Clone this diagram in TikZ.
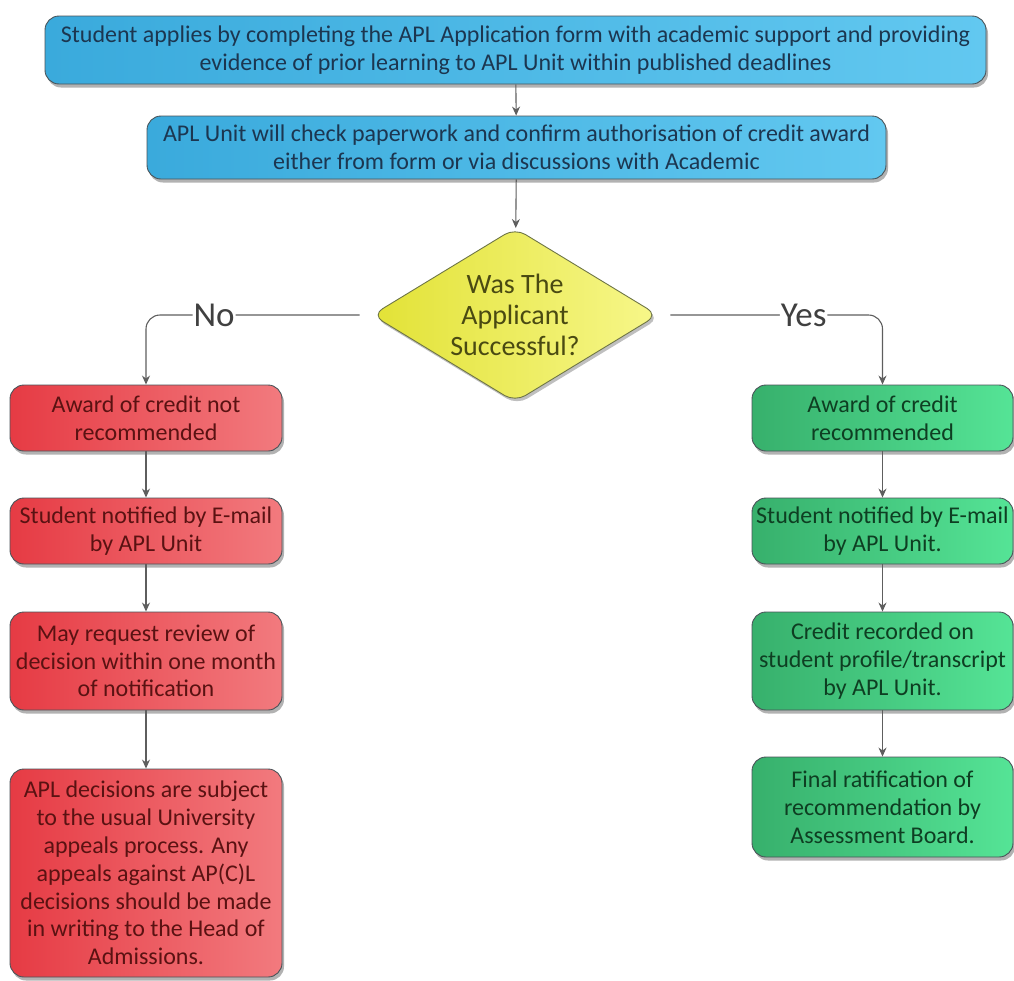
\documentclass[tikz,border=0pt]{standalone}
\usepackage{fontspec}
\setmainfont{Carlito}
\usetikzlibrary{shapes.geometric,shadows,arrows.meta}
\definecolor{bluA}{HTML}{3AAADC}
\definecolor{bluB}{HTML}{62C8F0}
\definecolor{redA}{HTML}{E63B44}
\definecolor{redB}{HTML}{F27A7E}
\definecolor{grnA}{HTML}{37B06C}
\definecolor{grnB}{HTML}{55E496}
\definecolor{yelA}{HTML}{E2E236}
\definecolor{yelB}{HTML}{F7F78A}
\definecolor{edge}{HTML}{4A5358}
\definecolor{arr}{HTML}{5E5E5E}
\definecolor{txB}{HTML}{1C3650}
\definecolor{txR}{HTML}{5A1212}
\definecolor{txG}{HTML}{0E3E22}
\definecolor{txY}{HTML}{4A4A12}
\tikzset{
  x=1pt,y=-1pt,
  boxbase/.style={draw=edge, line width=0.9pt, rounded corners=14pt, align=center,
    inner sep=2pt, font=\fontsize{24}{27.8}\selectfont,
    drop shadow={shadow xshift=2pt,shadow yshift=-3.5pt,fill=black,opacity=0.3}},
  bluebox/.style={boxbase, left color=bluA, right color=bluB, text=txB},
  redbox/.style={boxbase, left color=redA, right color=redB, text=txR, minimum width=272pt},
  grnbox/.style={boxbase, left color=grnA, right color=grnB, text=txG, minimum width=261pt},
  decbox/.style={diamond, aspect=1.64, draw=edge!80!yellow, line width=0.9pt, rounded corners=12pt,
    left color=yelA, right color=yelB, text=txY, align=center, inner sep=0pt,
    minimum width=286pt, minimum height=174pt,
    font=\fontsize{28}{31}\selectfont,
    drop shadow={shadow xshift=2pt,shadow yshift=-3pt,fill=black,opacity=0.25}},
  flow/.style={draw=arr, line width=1.1pt, -{Stealth[length=9pt,width=8pt]}},
  branchlbl/.style={fill=white, text=black!75, inner sep=1pt, font=\fontsize{35}{37}\selectfont}
}
\begin{document}
\begin{tikzpicture}
\useasboundingbox (0,0) rectangle (1014,980);
\node[bluebox, minimum width=941pt, minimum height=68pt] (b1) at (515.5,50)
  {Student applies by completing the APL Application form with academic support and providing\\evidence of prior learning to APL Unit within published deadlines};
\node[bluebox, minimum width=739pt, minimum height=63pt] (b2) at (516.5,147.5)
  {APL Unit will check paperwork and confirm authorisation of credit award\\either from form or via discussions with Academic};
\node[decbox] (d) at (515,315) {Was The\\Applicant\\Successful?};

\node[redbox, minimum height=66pt] (l1) at (146,418) {Award of credit not\\recommended};
\node[redbox, minimum height=66pt] (l2) at (146,531) {Student notified by E-mail\\by APL Unit};
\node[redbox, minimum height=98pt] (l3) at (146,661) {May request review of\\decision within one month\\of notification};
\node[redbox, minimum height=208pt] (l4) at (146,873) {APL decisions are subject\\to the usual University\\appeals process. Any\\appeals against AP(C)L\\decisions should be made\\in writing to the Head of\\Admissions.};

\node[grnbox, minimum height=66pt] (r1) at (882.5,418) {Award of credit\\recommended};
\node[grnbox, minimum height=66pt] (r2) at (882.5,531) {Student notified by E-mail\\by APL Unit.};
\node[grnbox, minimum height=98pt] (r3) at (882.5,661) {Credit recorded on\\student profile/transcript\\by APL Unit.};
\node[grnbox, minimum height=100pt] (r4) at (882.5,807) {Final ratification of\\recommendation by\\Assessment Board.};

\draw[flow] (b1) -- (b2);
\draw[flow] (b2) -- (d);
\draw[flow, rounded corners=14pt, shorten <=12pt] (d.west) -| node[branchlbl, pos=0.349] {No} (l1.north);
\draw[flow, rounded corners=14pt, shorten <=12pt] (d.east) -| node[branchlbl, pos=0.324] {Yes} (r1.north);
\draw[flow] (l1) -- (l2);
\draw[flow] (l2) -- (l3);
\draw[flow] (l3) -- (l4);
\draw[flow] (r1) -- (r2);
\draw[flow] (r2) -- (r3);
\draw[flow] (r3) -- (r4);
\end{tikzpicture}
\end{document}
